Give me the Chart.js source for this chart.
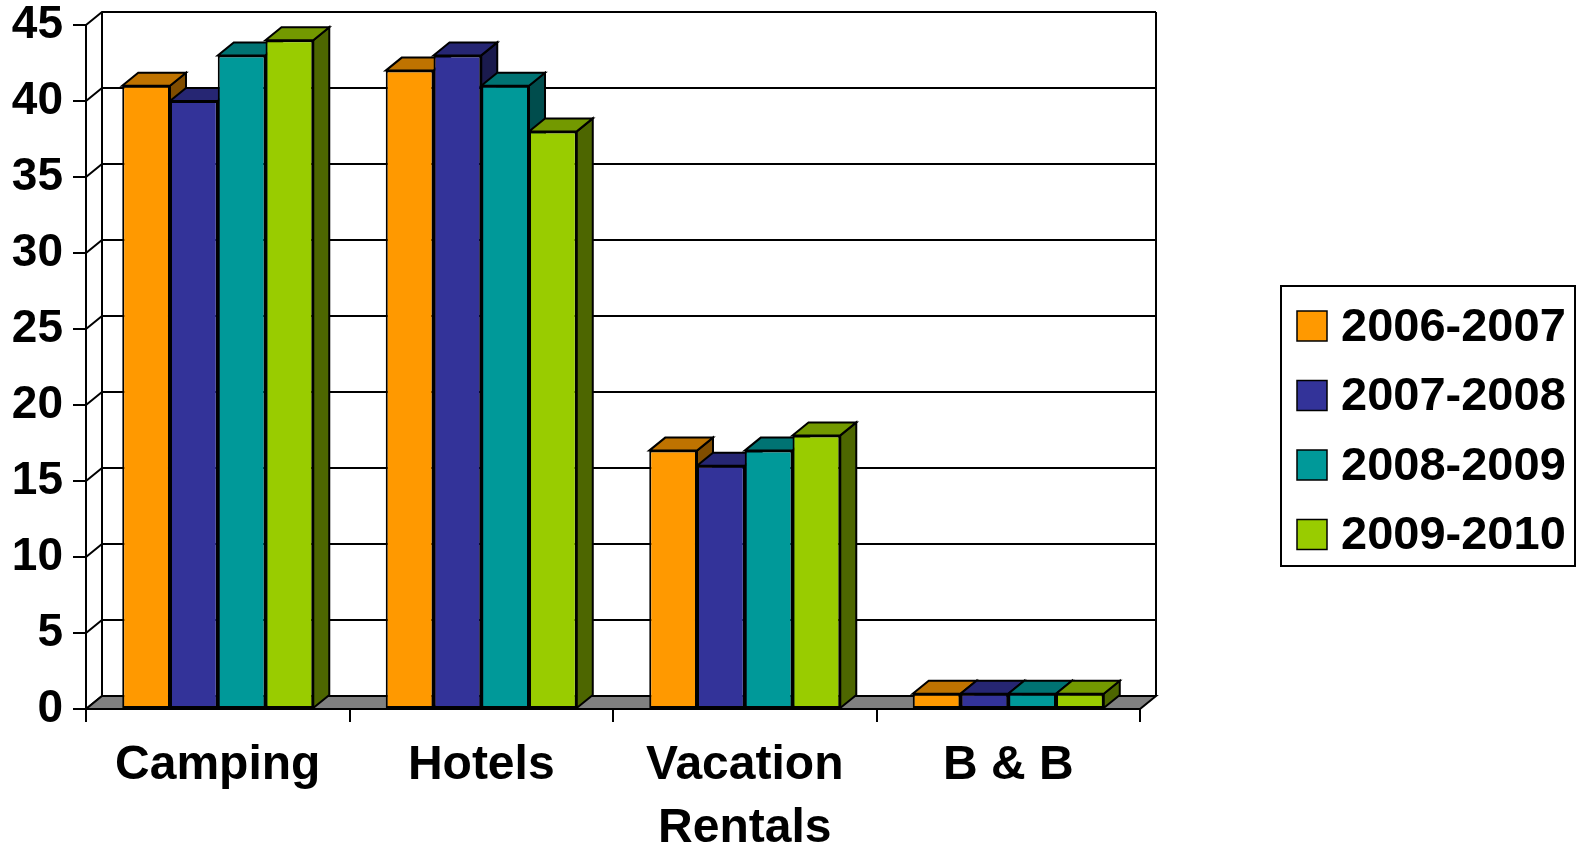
<!DOCTYPE html>
<html>
<head>
<meta charset="utf-8">
<script src="https://cdn.jsdelivr.net/npm/chart.js@4/dist/chart.umd.min.js"></script>
<style>
  html, body { margin: 0; padding: 0; background: #ffffff; }
  canvas { display: block; }
</style>
</head>
<body>
<canvas id="chart" width="1579" height="844"></canvas>
<script>
// Accommodation categories and seasonal values
const categories = ['Camping', 'Hotels', ['Vacation', 'Rentals'], 'B & B'];
const seasonLabels = ['2006-2007', '2007-2008', '2008-2009', '2009-2010'];
const season2006 = [41, 42, 17, 1];
const season2007 = [40, 43, 16, 1];
const season2008 = [43, 41, 17, 1];
const season2009 = [44, 38, 18, 1];
const yTickMax = 45;
const yTickStep = 5;

// Face colours: front, top (shaded), side (darker)
const frontColors = ['#FF9900', '#333399', '#009999', '#99CC00'];
const topColors   = ['#BF7300', '#262673', '#007373', '#739900'];
const sideColors  = ['#804D00', '#1A1A4D', '#004D4D', '#4D6600'];

const FONT = "'Liberation Sans', Arial, Helvetica, sans-serif";
const DEPTH_X = 16;
const DEPTH_Y = -13;

function poly(ctx, pts, fill) {
  ctx.beginPath();
  ctx.moveTo(pts[0][0], pts[0][1]);
  for (let k = 1; k < pts.length; k++) ctx.lineTo(pts[k][0], pts[k][1]);
  ctx.closePath();
  if (fill) { ctx.fillStyle = fill; ctx.fill(); }
  ctx.stroke();
}

// Walls, floor, back grid and the shaded top/side faces of every column
const depthPlugin = {
  id: 'depth',
  beforeDatasetsDraw(chart) {
    const ctx = chart.ctx;
    const { left: L, right: R, top: T, bottom: B } = chart.chartArea;
    const yScale = chart.scales.y;
    ctx.save();
    ctx.strokeStyle = '#000000';
    ctx.lineWidth = 2;
    ctx.lineJoin = 'miter';

    // back wall edges
    ctx.beginPath();
    ctx.moveTo(L + DEPTH_X, B + DEPTH_Y);
    ctx.lineTo(L + DEPTH_X, T + DEPTH_Y);
    ctx.moveTo(R + DEPTH_X, B + DEPTH_Y);
    ctx.lineTo(R + DEPTH_X, T + DEPTH_Y);
    ctx.stroke();

    // gridlines on the back wall and the left wall
    for (let v = 0; v <= yTickMax; v += yTickStep) {
      const y = yScale.getPixelForValue(v);
      ctx.beginPath();
      ctx.moveTo(L, y);
      ctx.lineTo(L + DEPTH_X, y + DEPTH_Y);
      ctx.lineTo(R + DEPTH_X, y + DEPTH_Y);
      ctx.stroke();
    }

    // floor
    poly(ctx, [[L, B], [R, B], [R + DEPTH_X, B + DEPTH_Y], [L + DEPTH_X, B + DEPTH_Y]], '#808080');

    // top and side faces, left to right
    const n = chart.data.labels.length;
    const sets = chart.data.datasets.length;
    for (let j = 0; j < n; j++) {
      for (let i = 0; i < sets; i++) {
        const bar = chart.getDatasetMeta(i).data[j];
        const x0 = bar.x - bar.width / 2;
        const x1 = bar.x + bar.width / 2;
        const yt = bar.y;
        const yb = bar.base;
        poly(ctx, [[x1, yt], [x1 + DEPTH_X, yt + DEPTH_Y], [x1 + DEPTH_X, yb + DEPTH_Y], [x1, yb]], sideColors[i]);
        poly(ctx, [[x0, yt], [x1, yt], [x1 + DEPTH_X, yt + DEPTH_Y], [x0 + DEPTH_X, yt + DEPTH_Y]], topColors[i]);
      }
    }
    ctx.restore();
  }
};

// Boxed legend on the right
const legendBoxPlugin = {
  id: 'legendBox',
  afterDraw(chart) {
    const ctx = chart.ctx;
    ctx.save();
    ctx.strokeStyle = '#000000';
    ctx.lineWidth = 2;
    ctx.strokeRect(1281, 286, 294, 280);
    ctx.font = 'bold 47px ' + FONT;
    ctx.textAlign = 'left';
    ctx.textBaseline = 'middle';
    chart.data.datasets.forEach((ds, i) => {
      const top = 311 + i * 69.5;
      ctx.fillStyle = ds.backgroundColor;
      ctx.fillRect(1297, top, 30, 30);
      ctx.lineWidth = 1.5;
      ctx.strokeRect(1297, top, 30, 30);
      ctx.fillStyle = '#000000';
      ctx.fillText(ds.label, 1341, top + 17);
    });
    ctx.restore();
  }
};

const seriesValues = [season2006, season2007, season2008, season2009];

new Chart(document.getElementById('chart'), {
  type: 'bar',
  data: {
    labels: categories,
    datasets: seriesValues.map((vals, i) => ({
      label: seasonLabels[i],
      data: vals,
      backgroundColor: frontColors[i],
      borderColor: '#000000',
      borderWidth: 2,
      borderSkipped: false,
      categoryPercentage: 0.725,
      barPercentage: 1.0
    }))
  },
  options: {
    responsive: false,
    animation: false,
    devicePixelRatio: 1,
    layout: { padding: { left: 0, right: 439, top: 25, bottom: 0 } },
    plugins: {
      legend: { display: false },
      tooltip: { enabled: false }
    },
    scales: {
      x: {
        offset: true,
        grid: {
          display: true, offset: true, drawOnChartArea: false, drawTicks: true,
          tickLength: 13, color: '#000000', lineWidth: 2
        },
        border: { display: true, color: '#000000', width: 2 },
        ticks: {
          color: '#000000', padding: 12, maxRotation: 0, autoSkip: false,
          font: { family: FONT, size: 48, weight: 'bold', lineHeight: 1.32 }
        },
        afterFit(scale) {
          scale.height = 135;
          scale.paddingLeft = 0; scale.paddingRight = 0;
          scale.paddingTop = 0; scale.paddingBottom = 0;
        }
      },
      y: {
        min: 0,
        max: yTickMax,
        grid: {
          display: true, drawOnChartArea: false, drawTicks: true,
          tickLength: 13, color: '#000000', lineWidth: 2
        },
        border: { display: true, color: '#000000', width: 2 },
        ticks: {
          stepSize: yTickStep, color: '#000000', padding: 10,
          font: { family: FONT, size: 46, weight: 'bold', lineHeight: 1.0 }
        },
        afterFit(scale) {
          scale.width = 86;
          scale.paddingTop = 0; scale.paddingBottom = 0;
          scale.paddingLeft = 0; scale.paddingRight = 0;
        }
      }
    }
  },
  plugins: [depthPlugin, legendBoxPlugin]
});
</script>
</body>
</html>
